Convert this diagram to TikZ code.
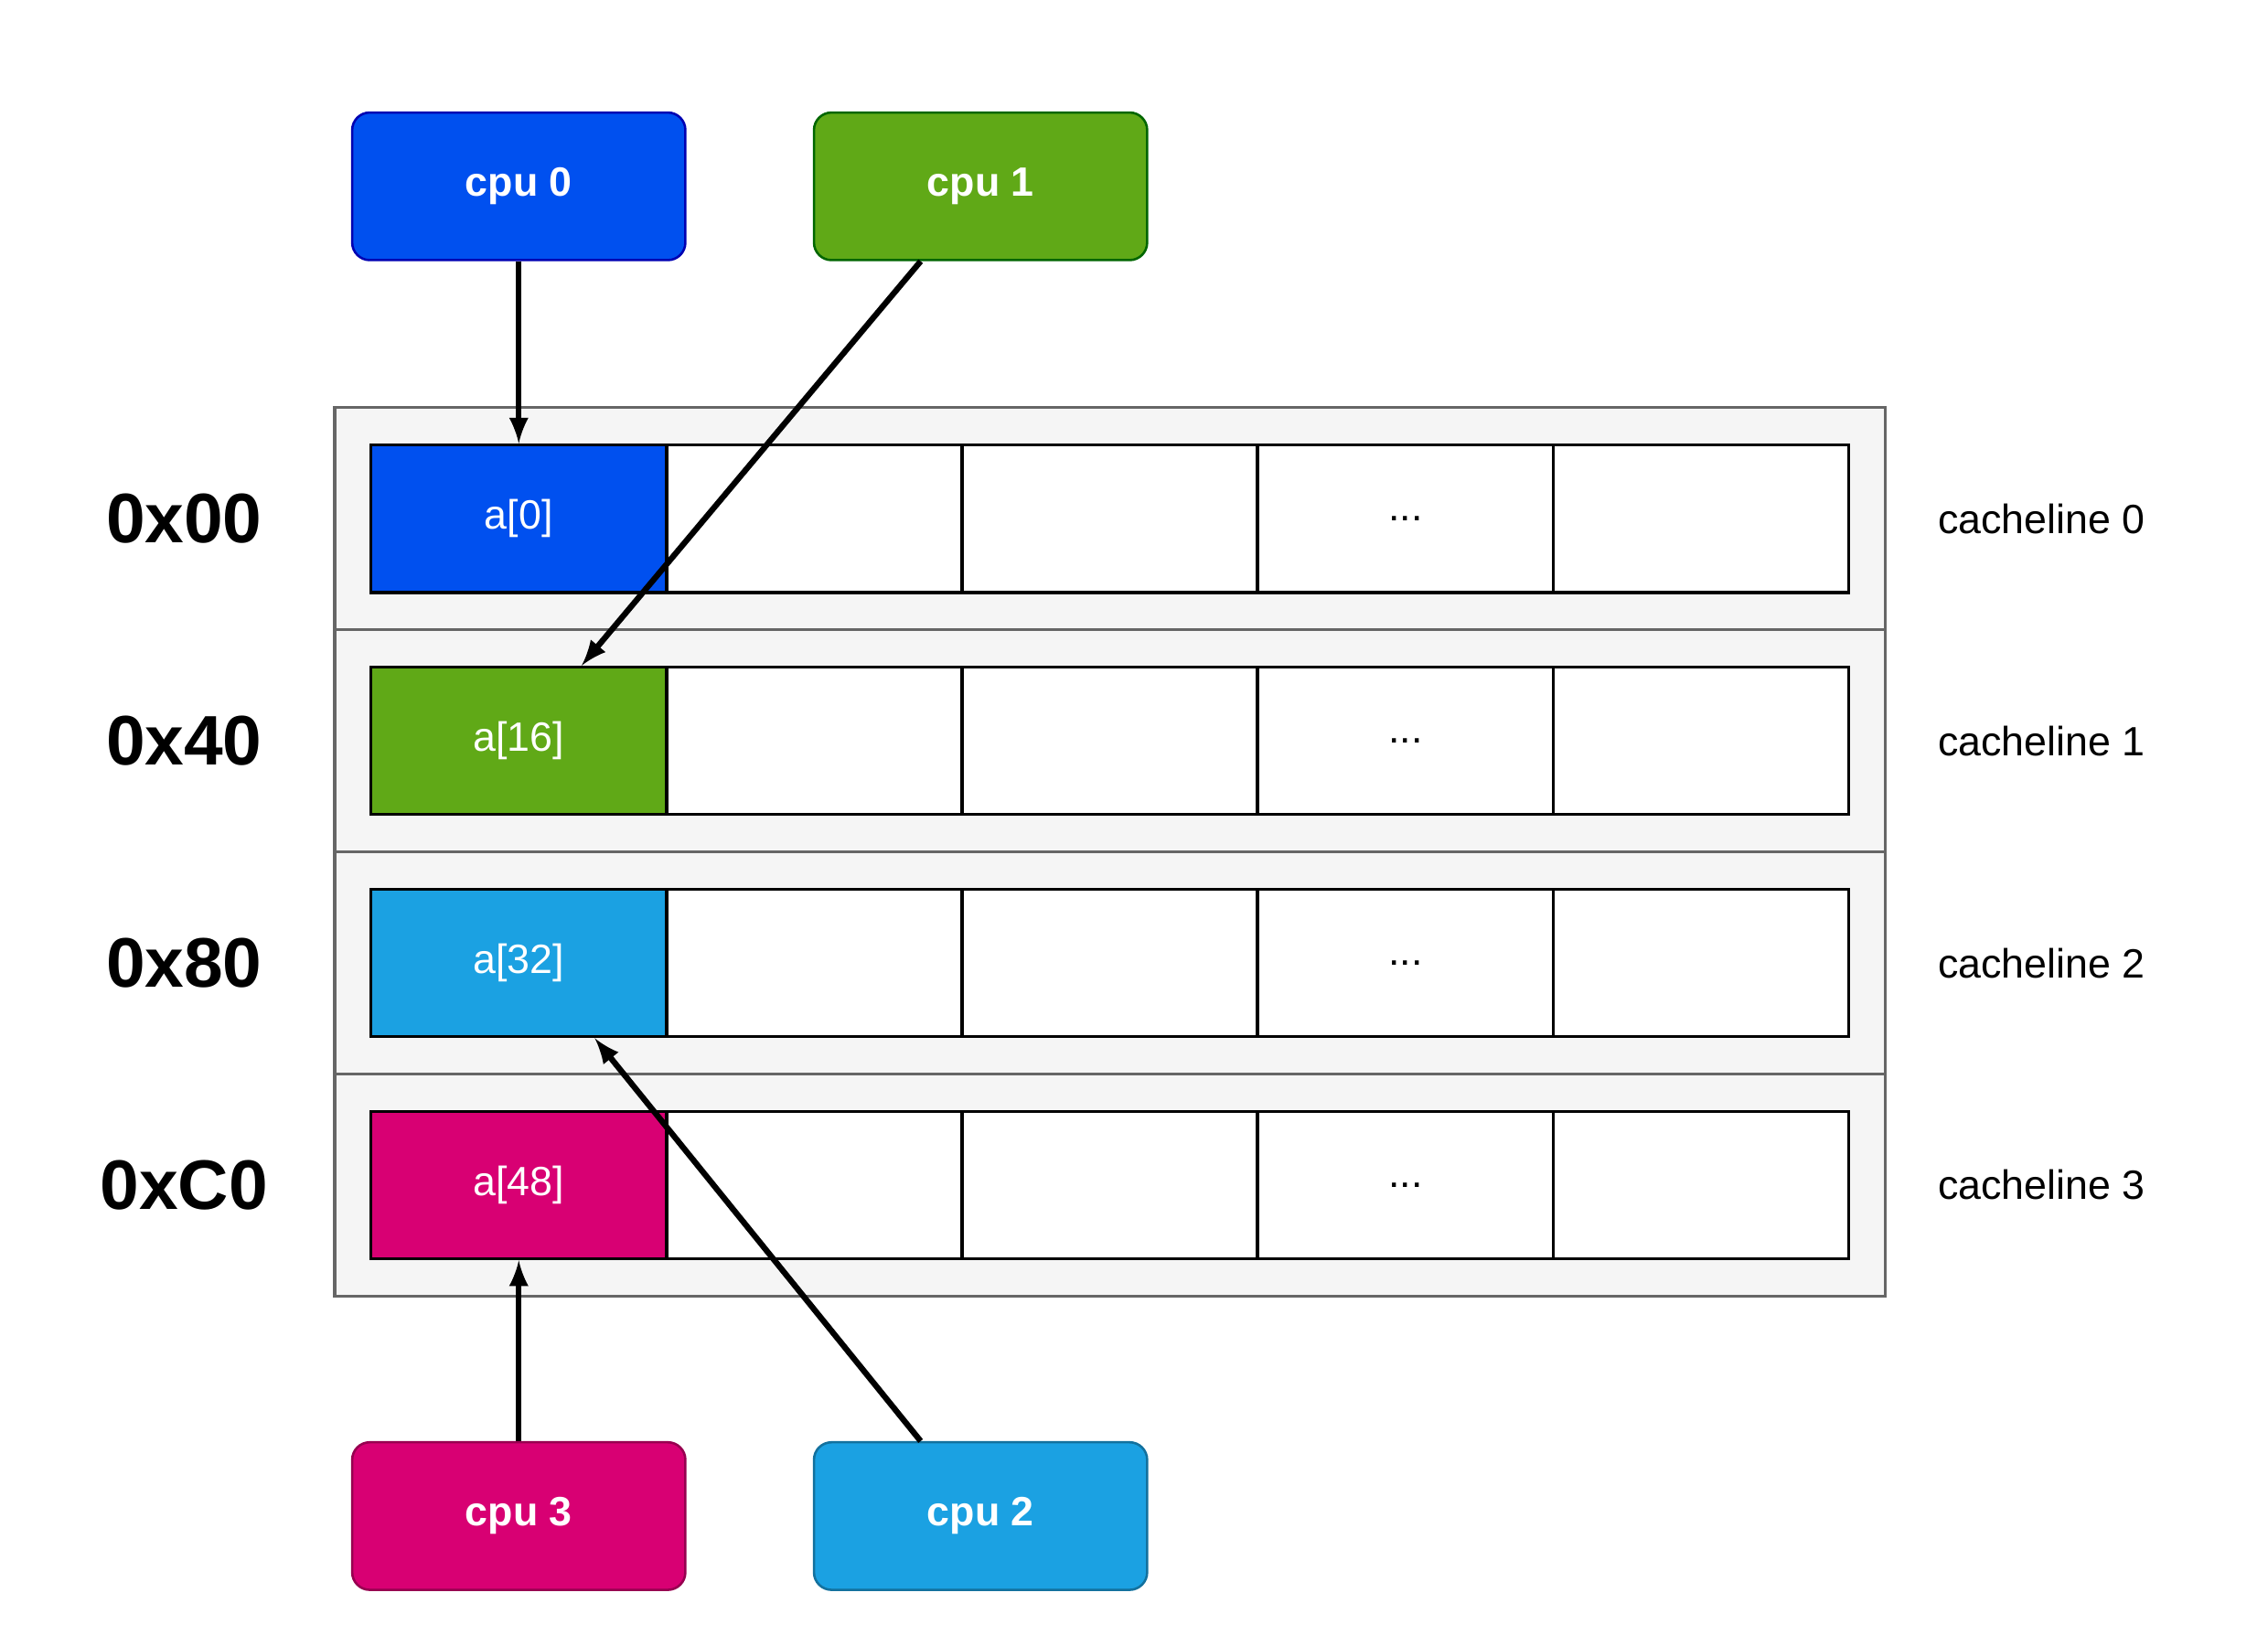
\documentclass[tikz,border=0pt]{standalone}
\usepackage{fontspec}
\setmainfont{Liberation Sans}
\usetikzlibrary{positioning,calc}
\definecolor{cpublue}{HTML}{0050EF}
\definecolor{cpugreen}{HTML}{60A917}
\definecolor{cpupink}{HTML}{D80073}
\definecolor{cpucyan}{HTML}{1BA1E2}
\tikzset{cpu/.style = {draw, rounded corners=6pt, line width=0.8pt, minimum width=114pt, minimum height=50.5pt, inner sep=0, text=white, font=\fontsize{14}{16}\selectfont\bfseries}}
\tikzset{row/.style = {draw=black!60, fill=black!4, line width=1pt, minimum width=530.5pt, minimum height=76pt, inner sep=0}}
\tikzset{cell/.style = {draw, line width=1pt, minimum width=101pt, minimum height=50.5pt, inner sep=0, fill=white, font=\fontsize{14}{16}\selectfont}}
\tikzset{addr/.style = {font=\fontsize{24}{28}\selectfont\bfseries}}
\tikzset{line/.style = {font=\fontsize{14}{16}\selectfont}}

\begin{document}
\begin{tikzpicture}[x=0.5pt, y=-0.5pt, >=latex, line width=2pt]
  \useasboundingbox (0,0) rectangle (1552,1126);
  \node [cpu, fill=cpublue, draw=blue!70!black] (cpu0) at (355,127.5) {cpu 0};
  \node [cpu, fill=cpugreen, draw=green!40!black] (cpu1) at (671,127.5) {cpu 1};
  \node [cpu, fill=cpupink, draw=cpupink!70!black] (cpu3) at (355,1037.5) {cpu 3};
  \node [cpu, fill=cpucyan, draw=cpucyan!70!black] (cpu2) at (671,1037.5) {cpu 2};

  \foreach \r/\a/\l in {0/0x00/a[0], 1/0x40/a[16], 2/0x80/a[32], 3/0xC0/a[48]} {
    \node [row] (row\r) at (759.5,355+152*\r) {};
    \node [addr] (addr\r) at (126,355+152*\r) {\a};
    \node [line] (line\r) at (1397,355+152*\r) {cacheline \r};
    \foreach \c in {1,...,4}
      \node [cell] (c\r\c) at (355+202.25*\c,355+152*\r) {\ifnum\c=3 ...\fi};
    \node [cell, text=white] (c\r0) at (355,355+152*\r) {\l};
  }
  \node [cell, fill=cpublue, text=white] at (c00) {a[0]};
  \node [cell, fill=cpugreen, text=white] at (c10) {a[16]};
  \node [cell, fill=cpucyan, text=white] at (c20) {a[32]};
  \node [cell, fill=cpupink, text=white] at (c30) {a[48]};

  \coordinate (s1) at ($(cpu1.south)+(-41,0)$);
  \coordinate (e1) at ($(c10.north)+(43,0)$);
  \coordinate (s2) at ($(cpu2.north)+(-41,0)$);
  \coordinate (e2) at ($(c20.south)+(52,0)$);

  \draw [->] (cpu0.south) -- (c00.north);
  \draw [->] (s1) -- (e1);
  \draw [->] (cpu3.north) -- (c30.south);
  \draw [->] (s2) -- (e2);
\end{tikzpicture}
\end{document}
